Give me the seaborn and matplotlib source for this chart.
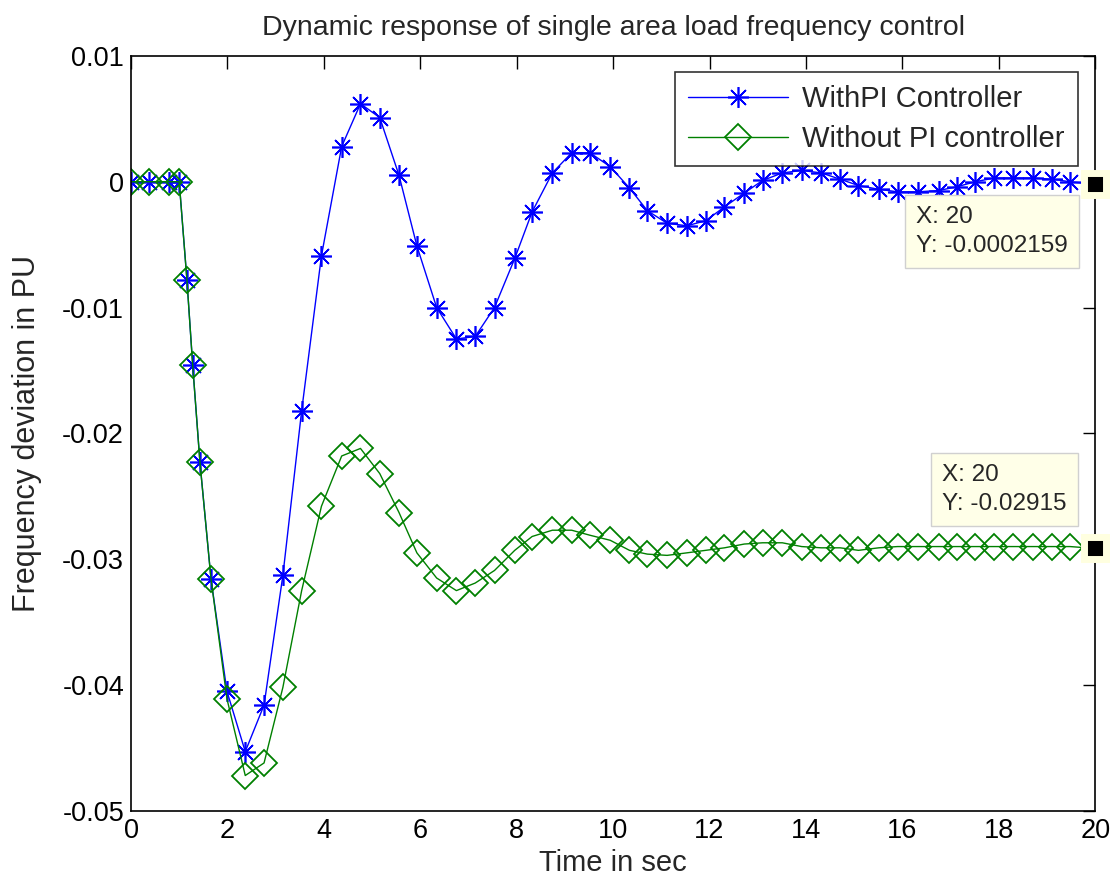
import matplotlib
matplotlib.use("Agg")
import matplotlib.pyplot as plt
import numpy as np
import pandas as pd
import seaborn as sns

sns.set_style("white")
plt.rcParams['font.family'] = ['Liberation Sans', 'DejaVu Sans']
plt.rcParams['axes.unicode_minus'] = False

# time vector (variable step solver output)
t = [0, 0.38, 0.79, 1.0, 1.16, 1.28, 1.43, 1.66, 1.99,
     2.37, 2.76, 3.15, 3.54, 3.95, 4.37, 4.76, 5.16, 5.56, 5.93,
     6.34, 6.75, 7.14, 7.54, 7.96, 8.32, 8.74, 9.14, 9.52, 9.94,
     10.34, 10.71, 11.12, 11.53, 11.92, 12.31, 12.72, 13.1, 13.51, 13.91,
     14.32, 14.71, 15.09, 15.51, 15.9, 16.32, 16.75, 17.13, 17.51, 17.91,
     18.29, 18.7, 19.11, 19.48, 20]

with_pi = [0, 0, 0, 0,
           -0.0078, -0.0146, -0.0223, -0.0316, -0.0405,
           -0.0453, -0.0416, -0.0313, -0.0182, -0.0059,
           0.0028, 0.0062, 0.0051, 0.0005, -0.0051,
           -0.0100, -0.0125, -0.0123, -0.0100, -0.0061,
           -0.0024, 0.0007, 0.0023, 0.0023, 0.0012,
           -0.0005, -0.0023, -0.0033, -0.0035, -0.0031,
           -0.0020, -0.0009, 0.0001, 0.0007, 0.0009,
           0.0007, 0.0002, -0.0003, -0.0006, -0.0008,
           -0.0008, -0.0007, -0.0004, 0.0000, 0.0003,
           0.0003, 0.0003, 0.0002, 0.0000, -0.0002159]

without_pi = [0, 0, 0, 0,
              -0.0078, -0.0146, -0.0223, -0.0316, -0.0411,
              -0.0472, -0.0462, -0.0402, -0.0325, -0.0258,
              -0.0218, -0.0212, -0.0232, -0.0263, -0.0295,
              -0.0315, -0.0325, -0.0319, -0.0309, -0.0293,
              -0.0282, -0.0277, -0.0277, -0.0281, -0.0285,
              -0.0293, -0.0296, -0.0297, -0.0295, -0.0293,
              -0.0291, -0.0288, -0.0287, -0.0287, -0.0290,
              -0.0291, -0.0291, -0.0293, -0.0291, -0.0290,
              -0.0290, -0.0290, -0.0290, -0.0290, -0.0290,
              -0.0290, -0.0290, -0.0290, -0.0290, -0.02915]

x_ticks = list(range(0, 21, 2))
y_ticks = [0.01, 0, -0.01, -0.02, -0.03, -0.04, -0.05]
y_tick_labels = ["0.01", "0", "-0.01", "-0.02", "-0.03", "-0.04", "-0.05"]

tip_texts = ["X: 20\nY: -0.0002159", "X: 20\nY: -0.02915"]

df = pd.DataFrame({"t": t, "with": with_pi, "without": without_pi})

fig = plt.figure(figsize=(11.13, 8.88), dpi=100)
ax = fig.add_axes([0.1177, 0.087, 0.8663, 0.850])

sns.lineplot(data=df, x="t", y="with", ax=ax, sort=False, estimator=None,
             color="#0000FF", lw=1.0, marker=(8, 2, 0), markersize=15,
             markeredgecolor="#0000FF", markeredgewidth=1.2,
             label="WithPI Controller")
sns.lineplot(data=df, x="t", y="without", ax=ax, sort=False, estimator=None,
             color="#008000", lw=1.0, marker="D", markersize=13,
             markerfacecolor="none", markeredgecolor="#008000",
             markeredgewidth=1.3, label="Without PI controller")

# data tips: black square at the last sample with a pale halo
ax.plot([t[-1], t[-1]], [with_pi[-1], without_pi[-1]], "s", color="black",
        ms=16, mec="#FFFFE0", mew=5, clip_on=False, zorder=6)

tip_style = dict(boxstyle="square,pad=0.45", fc="#FFFFE8", ec="#D0D0D0", lw=1)
ax.text(16.29, -0.0019, tip_texts[0], ha="left", va="top", fontsize=17.5,
        linespacing=1.45, zorder=5, bbox=tip_style)
ax.text(16.83, -0.0224, tip_texts[1], ha="left", va="top", fontsize=17.5,
        linespacing=1.45, zorder=5, bbox=tip_style)

ax.set_xlim(0, 20)
ax.set_ylim(-0.05, 0.01)
ax.set_xticks(x_ticks)
ax.set_xticklabels([str(v) for v in x_ticks])
ax.set_yticks(y_ticks)
ax.set_yticklabels(y_tick_labels)
ax.tick_params(direction="in", length=9, width=1, top=True, right=True,
               labelsize=19.5, colors="black", pad=5)
for s in ax.spines.values():
    s.set_color("black")
    s.set_linewidth(1.2)

ax.set_title("Dynamic response of single area load frequency control",
             fontsize=20.5, pad=15)
ax.set_xlabel("Time in sec", fontsize=21, labelpad=4)
ax.set_ylabel("Frequency deviation in PU", fontsize=22)
ax.yaxis.set_label_coords(-0.092, 0.5)

leg = ax.legend(loc="upper right", bbox_to_anchor=(0.982, 0.979), fontsize=21,
                frameon=True, fancybox=False, edgecolor="black",
                handlelength=3.4, numpoints=1, borderpad=0.45,
                labelspacing=0.42, handletextpad=0.5, borderaxespad=0)
leg.get_frame().set_linewidth(1.2)

fig.savefig("out.png", dpi=100)
